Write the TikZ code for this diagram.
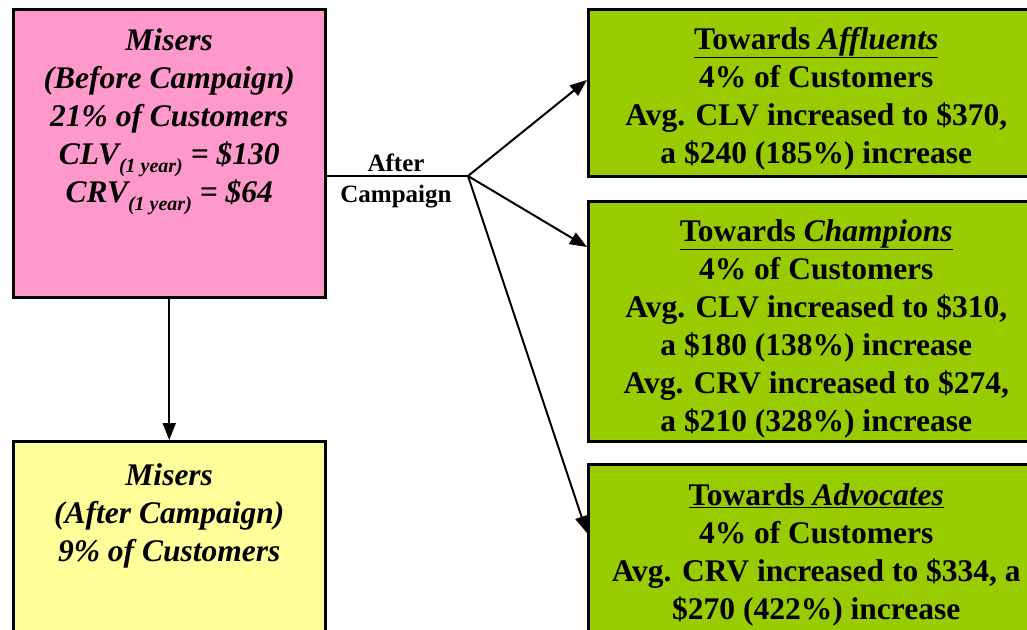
\documentclass[tikz,border=0pt]{standalone}
\usepackage{fontspec}
\setmainfont{Liberation Serif}
\usetikzlibrary{arrows.meta}
\definecolor{misersbefore}{HTML}{FF99CC}
\definecolor{misersafter}{HTML}{FFFF99}
\definecolor{towards}{HTML}{99CC00}
\newcommand{\oneyear}{\raisebox{-8pt}{\fontsize{20}{20}\selectfont (1 year)}}

\begin{document}
\begin{tikzpicture}[x=1pt,y=-1pt,
            box/.style={draw,line width=2.5pt,rectangle,inner sep=0pt,anchor=north west},
            txt/.style={align=center,inner sep=0pt,anchor=north,font=\fontsize{31.5}{38}\selectfont\bfseries},
            conn/.style={line width=2pt},
            arr/.style={conn,-{Triangle[length=17pt,width=13pt]}}
            ]
            \clip (0,0) rectangle (1027,629);
            % segment boxes
            \node[box,fill=misersbefore,minimum width=312pt,minimum height=288pt] (before) at (12,8) {};
            \node[box,fill=misersafter,minimum width=312pt,minimum height=210pt] (after) at (12,440) {};
            \node[box,fill=towards,minimum width=456pt,minimum height=167pt] (affluents) at (587,8) {};
            \node[box,fill=towards,minimum width=456pt,minimum height=240pt] (champions) at (587,200) {};
            \node[box,fill=towards,minimum width=456pt,minimum height=190pt] (advocates) at (587,463) {};

            \node[txt,font=\fontsize{31.5}{38}\selectfont\bfseries\itshape] (beforetxt) at ([yshift=-20pt]before.north)
                {Misers\\(Before Campaign)\\21\% of Customers\\CLV\oneyear{} = \$130\\CRV\oneyear{} = \$64};
            \node[txt,font=\fontsize{31.5}{38}\selectfont\bfseries\itshape] (aftertxt) at ([yshift=-23pt]after.north)
                {Misers\\(After Campaign)\\9\% of Customers};
            \node[txt] (affluentstxt) at ([yshift=-19pt]affluents.north)
                {\underline{Towards \textit{Affluents}}\\4\% of Customers\\Avg. CLV increased to \$370,\\a \$240 (185\%) increase};
            \node[txt] (championstxt) at ([yshift=-19pt]champions.north)
                {\underline{Towards \textit{Champions}}\\4\% of Customers\\Avg. CLV increased to \$310,\\a \$180 (138\%) increase\\Avg. CRV increased to \$274,\\a \$210 (328\%) increase};
            \node[txt] (advocatestxt) at ([yshift=-20pt]advocates.north)
                {\underline{Towards \textit{Advocates}}\\4\% of Customers\\Avg. CRV increased to \$334, a\\\$270 (422\%) increase};

            % campaign split
            \coordinate (fork) at (468,176);
            \node[align=center,inner sep=0pt,font=\fontsize{25}{31}\selectfont\bfseries] (campaign) at (396,181) {After\\Campaign};
            \draw[conn] (before.east |- fork) -- (fork);
            \draw[arr] (fork) -- ([yshift=-72pt]affluents.north west);
            \draw[arr] (fork) -- ([yshift=-47pt]champions.north west);
            \draw[arr] (fork) -- ([yshift=-70pt]advocates.north west);
            \draw[arr] (before.south) -- (after.north);
        \end{tikzpicture}
\end{document}
